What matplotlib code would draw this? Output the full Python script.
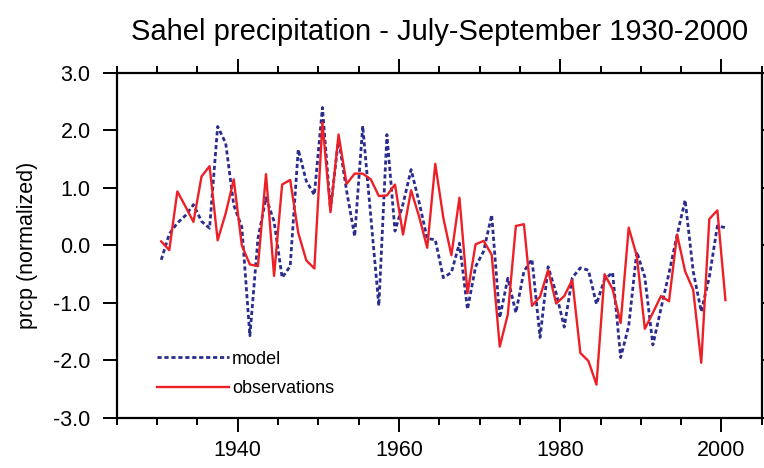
import numpy as np
import matplotlib.pyplot as plt
from matplotlib.ticker import MultipleLocator, FormatStrFormatter

plt.rcParams['font.family'] = ['Liberation Sans', 'DejaVu Sans']

years = np.arange(1930, 2001)

model = [-0.25, 0.20, 0.39, 0.52, 0.71, 0.42, 0.30, 2.07, 1.78, 0.70,
         0.32, -1.57, 0.12, 0.83, 0.42, -0.56, -0.36, 1.67, 1.12, 0.88,
         2.40, 0.62, 1.86, 0.95, 0.16, 2.08, 0.50, -1.05, 1.93, 0.25,
         0.72, 1.32, 0.75, 0.12, 0.10, -0.56, -0.47, 0.04, -1.11, -0.37,
         -0.10, 0.53, -1.26, -0.57, -1.17, -0.45, -0.24, -1.60, -0.37, -0.83,
         -1.42, -0.56, -0.39, -0.43, -1.02, -0.59, -0.47, -1.95, -1.40, -0.11,
         -0.55, -1.73, -1.10, -0.48, 0.18, 0.79, -0.45, -1.15, -0.55, 0.34,
         0.31]

obs = [0.07, -0.08, 0.94, 0.68, 0.41, 1.20, 1.38, 0.09, 0.56, 1.15,
       0.00, -0.33, -0.36, 1.24, -0.53, 1.06, 1.14, 0.22, -0.26, -0.40,
       2.14, 0.58, 1.93, 1.07, 1.25, 1.25, 1.15, 0.86, 0.87, 1.06,
       0.19, 0.96, 0.50, -0.04, 1.42, 0.48, -0.17, 0.83, -0.83, 0.02,
       0.08, -0.16, -1.76, -1.20, 0.34, 0.37, -1.05, -0.89, -0.43, -1.01,
       -0.88, -0.60, -1.87, -2.01, -2.42, -0.50, -0.76, -1.35, 0.31, -0.18,
       -1.45, -1.17, -0.88, -0.97, 0.19, -0.45, -0.77, -2.04, 0.46, 0.61,
       -0.95]

fig = plt.figure(figsize=(7.64, 4.68), dpi=100)
ax = fig.add_axes([0.153, 0.107, 0.844, 0.737])

# seasonal means sit in the middle of the year
t = years + 0.5
ax.plot(t, model, color='#2b2d8e', lw=2.0, linestyle=(0, (1.5, 1.0)), label='model')
ax.plot(t, obs, color='#ee2027', lw=1.7, label='observations')

ax.set_xlim(1925, 2005)
ax.set_ylim(-3, 3)
ax.xaxis.set_major_locator(MultipleLocator(20))
ax.xaxis.set_minor_locator(MultipleLocator(5))
ax.yaxis.set_major_locator(MultipleLocator(1))
ax.yaxis.set_major_formatter(FormatStrFormatter('%.1f'))

for s in ax.spines.values():
    s.set_linewidth(1.6)
ax.tick_params(which='both', direction='out', width=1.4, top=True, right=True,
               labelsize=15.5)
ax.tick_params(which='major', length=10, pad=6)
ax.tick_params(which='minor', length=5)
ax.tick_params(axis='y', pad=9)

ax.set_ylabel('prcp (normalized)', fontsize=15.5, labelpad=11)
ax.set_title('Sahel precipitation - July-September 1930-2000', fontsize=21, pad=24)

ax.legend(loc='lower left', bbox_to_anchor=(0.062, 0.06), frameon=False,
          handlelength=4.0, handletextpad=0.15, labelspacing=0.7,
          borderpad=0, borderaxespad=0, fontsize=13)

fig.savefig('out.png', dpi=100)
